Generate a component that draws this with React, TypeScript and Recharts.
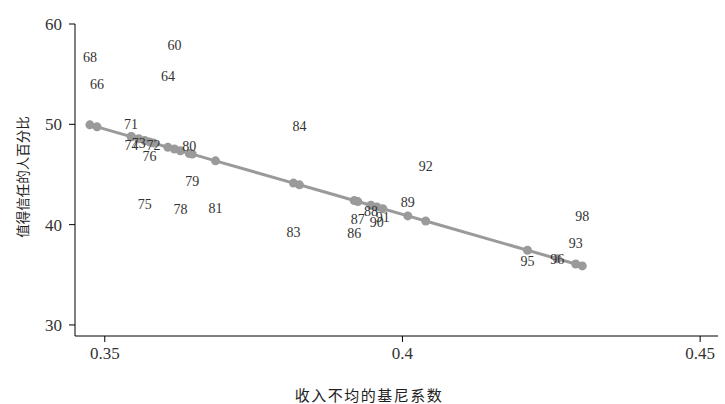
import { ComposedChart, Line, Scatter, XAxis, YAxis } from 'recharts';

// year labels (19xx), gini on x, trust % on y, fitted value on the regression line
const YEARS = ['60', '64', '66', '68', '71', '72', '73', '74', '75', '76', '78', '79', '80', '81', '83', '84', '86', '87', '88', '89', '90', '91', '92', '93', '95', '96', '98'];
const GINI = [0.3617, 0.3606, 0.3487, 0.3475, 0.3544, 0.3582, 0.3557, 0.3545, 0.3567, 0.3575, 0.3627, 0.3647, 0.3642, 0.3686, 0.3817, 0.3827, 0.3919, 0.3925, 0.3947, 0.4009, 0.3957, 0.3967, 0.4039, 0.4291, 0.421, 0.426, 0.4302];
const TRUST = [57.9, 54.8, 54.0, 56.7, 50.0, 47.9, 48.1, 47.9, 42.0, 46.8, 41.5, 44.3, 47.8, 41.6, 39.2, 49.75, 39.1, 40.5, 41.3, 42.2, 40.2, 40.7, 45.8, 38.1, 36.3, 36.5, 40.8];
const FITTED = [47.54, 47.72, 49.75, 49.95, 48.78, 48.13, 48.56, 48.76, 48.39, 48.25, 47.37, 47.03, 47.08, 46.36, 44.14, 43.97, 42.4, 42.3, 41.93, 40.87, 41.76, 41.59, 40.36, 36.08, 37.45, 36.6, 35.89];

const X_TICKS = [0.35, 0.4, 0.45];
const Y_TICKS = [30, 40, 50, 60];

const data = YEARS.map((year, i) => ({
  year,
  gini: GINI[i],
  trust: TRUST[i],
  fit: FITTED[i],
})).sort((a, b) => a.gini - b.gini);

const SERIF = '"Liberation Serif", "DejaVu Serif", serif';
const CJK = '"Noto Sans CJK SC", sans-serif';
const GREY = '#9a9a9a';

function YearLabel(props: any) {
  const { cx, cy, payload } = props;
  return (
    <text
      x={cx}
      y={cy}
      textAnchor="middle"
      dominantBaseline="central"
      fontFamily={SERIF}
      fontSize={14}
      fill="#333"
    >
      {payload.year}
    </text>
  );
}

function YTitle(props: any) {
  const { viewBox } = props;
  const x = 22;
  const y = viewBox.y + viewBox.height / 2 - 3;
  return (
    <text
      x={x}
      y={y}
      transform={`rotate(-90 ${x} ${y})`}
      textAnchor="middle"
      dominantBaseline="central"
      fontFamily={CJK}
      fontSize={13.5}
      fill="#222"
    >
      值得信任的人百分比
    </text>
  );
}

function XTitle() {
  return (
    <text
      x={369}
      y={394}
      textAnchor="middle"
      dominantBaseline="central"
      fontFamily={CJK}
      fontSize={15}
      letterSpacing={1.5}
      fill="#222"
    >
      收入不均的基尼系数
    </text>
  );
}

export default function App() {
  return (
    <div style={{ position: 'absolute', left: 0, top: 0, background: '#fff' }}>
      <ComposedChart
        width={725}
        height={404}
        data={data}
        margin={{ top: 24, right: 7, bottom: 0, left: 0 }}
      >
        <XAxis
          type="number"
          dataKey="gini"
          domain={[0.345, 0.453]}
          ticks={X_TICKS}
          height={68}
          tickSize={6}
          tickMargin={5}
          stroke="#000"
          tick={{ fontFamily: SERIF, fontSize: 17, fill: '#333' }}
          label={{ content: () => <XTitle /> }}
        />
        <YAxis
          type="number"
          domain={[28.9, 60]}
          ticks={Y_TICKS}
          width={75}
          tickSize={6}
          tickMargin={7}
          stroke="#000"
          tick={{ fontFamily: SERIF, fontSize: 17, fill: '#333' }}
          label={{ content: (p: any) => <YTitle {...p} /> }}
        />
        <Line
          dataKey="fit"
          stroke={GREY}
          strokeWidth={3}
          dot={{ r: 4.5, fill: GREY, stroke: GREY, strokeWidth: 0 }}
          activeDot={false}
          isAnimationActive={false}
        />
        <Scatter dataKey="trust" shape={<YearLabel />} isAnimationActive={false} />
      </ComposedChart>
    </div>
  );
}
